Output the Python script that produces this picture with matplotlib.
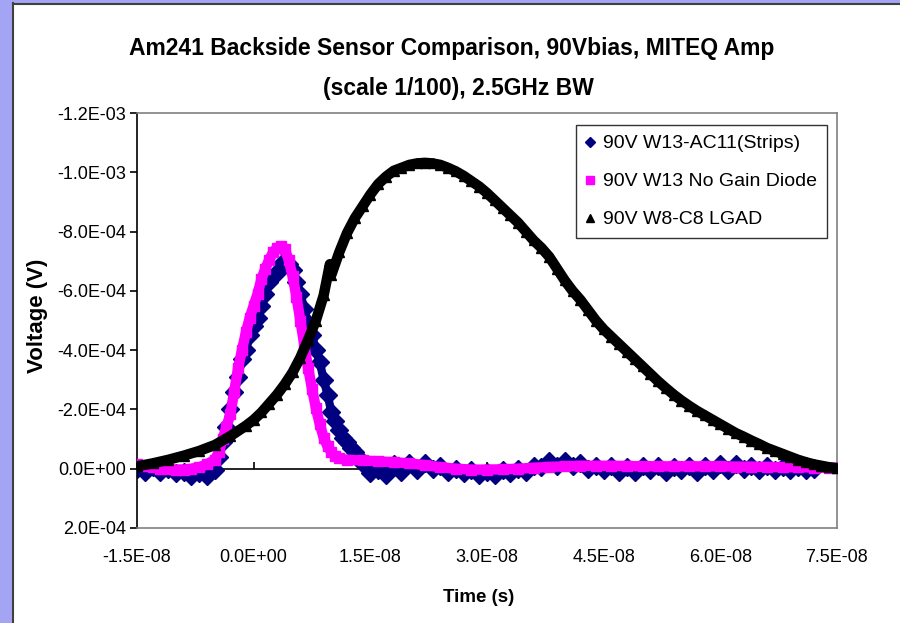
import matplotlib
matplotlib.use("Agg")
import matplotlib.pyplot as plt
from matplotlib.lines import Line2D
from matplotlib.patches import Rectangle

# ---------------- data (time in ns, voltage in 1e-4 V) ----------------
t_strips = [-15, -14, -13, -12, -11, -10, -9, -8, -7, -6, -5, -4.5, -4, -3.5, -3, -2.5, -2, -1.5, -1, -0.5,
            0, 0.5, 1, 1.5, 2, 2.5, 3, 3.5, 4, 4.5, 5, 5.5, 6, 6.5, 7, 7.5, 8, 8.5, 9, 9.5,
            10, 10.5, 11, 11.5, 12, 12.5, 13, 13.5, 14, 15, 16, 17, 18, 19, 20, 21, 22, 23, 24,
            25, 26, 27, 28, 29, 30, 31, 32, 33, 34, 35, 36, 37, 38, 39, 40, 41, 42, 43, 44,
            45, 46, 47, 48, 49, 50, 51, 52, 53, 54, 55, 56, 57, 58, 59, 60, 61, 62, 63, 64,
            65, 66, 67, 68, 69, 70, 71, 72]
v_strips = [0.0, 0.1, -0.05, 0.1, 0.0, 0.15, 0.1, 0.25, 0.15, 0.25, 0.05, -0.4, -0.9, -1.4, -2.0, -2.6, -3.1, -3.7, -4.0, -4.5,
            -4.8, -5.1, -5.5, -5.9, -6.3, -6.5, -6.6, -6.9, -6.95, -6.9, -6.7, -6.3, -5.9, -5.4, -4.9, -4.5, -4.0, -3.6, -3.0, -2.5,
            -1.9, -1.6, -1.3, -1.05, -0.9, -0.7, -0.55, -0.35, -0.15, 0.15, 0.05, 0.2, -0.15, 0.1, -0.2, 0.05, -0.2, 0.0, -0.1,
            0.1, 0.0, 0.15, 0.05, 0.2, 0.1, 0.2, 0.05, 0.15, 0.0, 0.1, -0.1, -0.05, -0.25, -0.1, -0.25, -0.1, -0.2, 0.0, -0.1,
            0.05, -0.1, 0.1, -0.05, 0.1, -0.1, 0.05, -0.1, 0.1, -0.05, 0.05, -0.1, 0.1, -0.1, 0.05, -0.15, 0.05, -0.15, 0.0, -0.1,
            0.05, -0.1, 0.05, -0.05, 0.05, -0.05, 0.05, 0.0]

t_diode = [-15, -14, -13, -12, -11, -10, -9, -8, -7, -6, -5, -4.5, -4, -3.5, -3, -2.5, -2, -1.5, -1, -0.5,
           0, 0.5, 1, 1.5, 2, 2.5, 3, 3.5, 4, 4.5, 5, 5.5, 6, 6.5, 7, 7.5, 8, 8.5, 9, 9.5,
           10, 10.5, 11, 12, 14, 16, 18, 20, 22, 24, 26, 28, 30, 32, 34, 36, 38, 40, 42, 44,
           46, 48, 50, 52, 54, 56, 58, 60, 62, 64, 66, 68, 70, 72, 74, 75]
v_diode = [-0.15, -0.1, -0.05, 0.0, 0.02, 0.03, 0.03, 0.0, -0.05, -0.15, -0.3, -0.55, -1.0, -1.4, -1.85, -2.6, -3.4, -4.0, -4.6, -5.1,
           -5.5, -5.9, -6.4, -6.75, -7.05, -7.3, -7.45, -7.5, -7.4, -7.05, -6.5, -5.8, -5.0, -4.2, -3.4, -2.7, -2.05, -1.5, -1.05, -0.75,
           -0.55, -0.42, -0.35, -0.3, -0.28, -0.25, -0.22, -0.18, -0.12, -0.05, 0.0, 0.03, 0.03, 0.02, 0.0, -0.03, -0.06, -0.08, -0.1, -0.1,
           -0.1, -0.09, -0.08, -0.08, -0.08, -0.08, -0.08, -0.08, -0.07, -0.07, -0.06, -0.05, -0.05, -0.04, -0.03, -0.03]

t_lgad = [-15, -13, -11, -9, -7, -5, -3, -1, 0, 1, 2, 3, 4, 5, 6, 7, 8, 9, 9.8, 10, 11, 12, 13, 14,
          15, 16, 17, 18, 19, 20, 21, 22, 23, 24, 25, 26, 27, 28, 29, 30, 31, 32, 33, 34, 35, 36, 37,
          38, 39, 40, 41, 42, 43, 44, 45, 46, 47, 48, 49, 50, 51, 52, 53, 54, 55, 56, 57, 58, 59, 60,
          61, 62, 63, 64, 65, 66, 67, 68, 69, 70, 71, 72, 73, 74, 75]
v_lgad = [-0.08, -0.18, -0.3, -0.44, -0.6, -0.8, -1.1, -1.45, -1.65, -1.9, -2.2, -2.5, -2.85, -3.25, -3.75, -4.35, -5.0, -5.85, -6.9, -6.55, -7.3, -7.95, -8.45, -8.85,
          -9.25, -9.6, -9.85, -10.05, -10.15, -10.25, -10.3, -10.32, -10.3, -10.25, -10.15, -10.03, -9.88, -9.7, -9.52, -9.3, -9.05, -8.8, -8.55, -8.3, -8.0, -7.7, -7.45,
          -7.15, -6.75, -6.35, -6.0, -5.7, -5.35, -5.0, -4.7, -4.45, -4.2, -3.95, -3.7, -3.45, -3.2, -2.95, -2.72, -2.5, -2.3, -2.12, -1.95, -1.8, -1.65, -1.5,
          -1.35, -1.2, -1.08, -0.95, -0.83, -0.7, -0.6, -0.5, -0.4, -0.3, -0.22, -0.15, -0.1, -0.05, -0.02]

series_labels = ["90V W13-AC11(Strips)", "90V W13 No Gain Diode", "90V W8-C8 LGAD"]

x_ticks = [-1.5e-8, 0.0, 1.5e-8, 3.0e-8, 4.5e-8, 6.0e-8, 7.5e-8]
x_tick_labels = ["-1.5E-08", "0.0E+00", "1.5E-08", "3.0E-08", "4.5E-08", "6.0E-08", "7.5E-08"]
y_ticks = [-1.2e-3, -1.0e-3, -8.0e-4, -6.0e-4, -4.0e-4, -2.0e-4, 0.0, 2.0e-4]
y_tick_labels = ["-1.2E-03", "-1.0E-03", "-8.0E-04", "-6.0E-04", "-4.0E-04", "-2.0E-04", "0.0E+00", "2.0E-04"]

title_line1 = "Am241 Backside Sensor Comparison, 90Vbias, MITEQ Amp"
title_line2 = "(scale 1/100), 2.5GHz BW"

# ---------------- figure ----------------
plt.rcParams['font.family'] = ['Liberation Sans', 'DejaVu Sans']
W, H = 900, 623
fig = plt.figure(figsize=(W / 100, H / 100), dpi=100)
fig.patch.set_facecolor('white')

# window decoration
fig.patches.append(Rectangle((0, 0), 12 / W, 1, transform=fig.transFigure, facecolor='#a4a4f4', edgecolor='none', zorder=0))
fig.patches.append(Rectangle((0, 1 - 3 / H), 1, 3 / H, transform=fig.transFigure, facecolor='#a4a4f4', edgecolor='none', zorder=0))
fig.add_artist(Line2D([13 / W, 13 / W], [0, 1 - 3 / H], transform=fig.transFigure, color='#404040', lw=1.5))
fig.add_artist(Line2D([13 / W, 1], [1 - 4 / H, 1 - 4 / H], transform=fig.transFigure, color='#404040', lw=1.5))

ax = fig.add_axes([137 / W, 1 - 528 / H, 700 / W, 415 / H])

ts = [t * 1e-9 for t in t_strips]
vs = [v * 1e-4 for v in v_strips]
td = [t * 1e-9 for t in t_diode]
vd = [v * 1e-4 for v in v_diode]
tl = [t * 1e-9 for t in t_lgad]
vl = [v * 1e-4 for v in v_lgad]

ax.axhline(0, color='black', lw=1.2, zorder=1)
ax.plot(x_ticks, [0] * len(x_ticks), linestyle='none', marker=2, markersize=5, color='black', mew=1.2, zorder=1, clip_on=False)

ax.plot(ts, vs, color='#000080', lw=6, marker='D', markersize=9.5, zorder=2)
ax.plot(td, vd, color='#ff00ff', lw=7.5, marker='s', markersize=6.5, zorder=3)
ax.plot(tl, vl, color='black', lw=7.5, marker='^', markersize=7, zorder=4)

ax.set_xlim(-1.5e-8, 7.5e-8)
ax.set_ylim(2.0e-4, -1.2e-3)
ax.set_xticks(x_ticks)
ax.set_xticklabels(x_tick_labels)
ax.set_yticks(y_ticks)
ax.set_yticklabels(y_tick_labels)
ax.tick_params(axis='x', length=0, pad=15, labelsize=13, colors='black')
ax.tick_params(axis='y', length=5, width=1.2, pad=3, labelsize=13, direction='out', colors='black')

for s in ['top', 'right', 'bottom']:
    ax.spines[s].set_color('#808080')
    ax.spines[s].set_linewidth(1.2)
ax.spines['left'].set_color('black')
ax.spines['left'].set_linewidth(1.2)

fig.text(452 / W, 1 - 48 / H, title_line1, ha='center', va='center', fontsize=16.5, fontweight='bold')
fig.text(458 / W, 1 - 88 / H, title_line2, ha='center', va='center', fontsize=16.5, fontweight='bold')
fig.text(38 / W, 1 - 316 / H, "Voltage (V)", ha='center', va='center', rotation=90, fontsize=16, fontweight='bold')
fig.text(479 / W, 1 - 597 / H, "Time (s)", ha='center', va='center', fontsize=13.5, fontweight='bold')

handles = [
    Line2D([], [], linestyle='none', marker='D', color='#000080', markersize=5),
    Line2D([], [], linestyle='none', marker='s', color='#ff00ff', markersize=6),
    Line2D([], [], linestyle='none', marker='^', color='black', markersize=6),
]
leg = ax.legend(handles, series_labels, loc='upper right', bbox_to_anchor=(0.986, 0.971),
                fontsize=14, frameon=True, fancybox=False, shadow=False, handlelength=0.4,
                handletextpad=0.5, borderpad=0.5, labelspacing=1.05, borderaxespad=0)
leg.get_frame().set_edgecolor('black')
leg.get_frame().set_linewidth(1.0)

fig.savefig("out.png", dpi=100)
